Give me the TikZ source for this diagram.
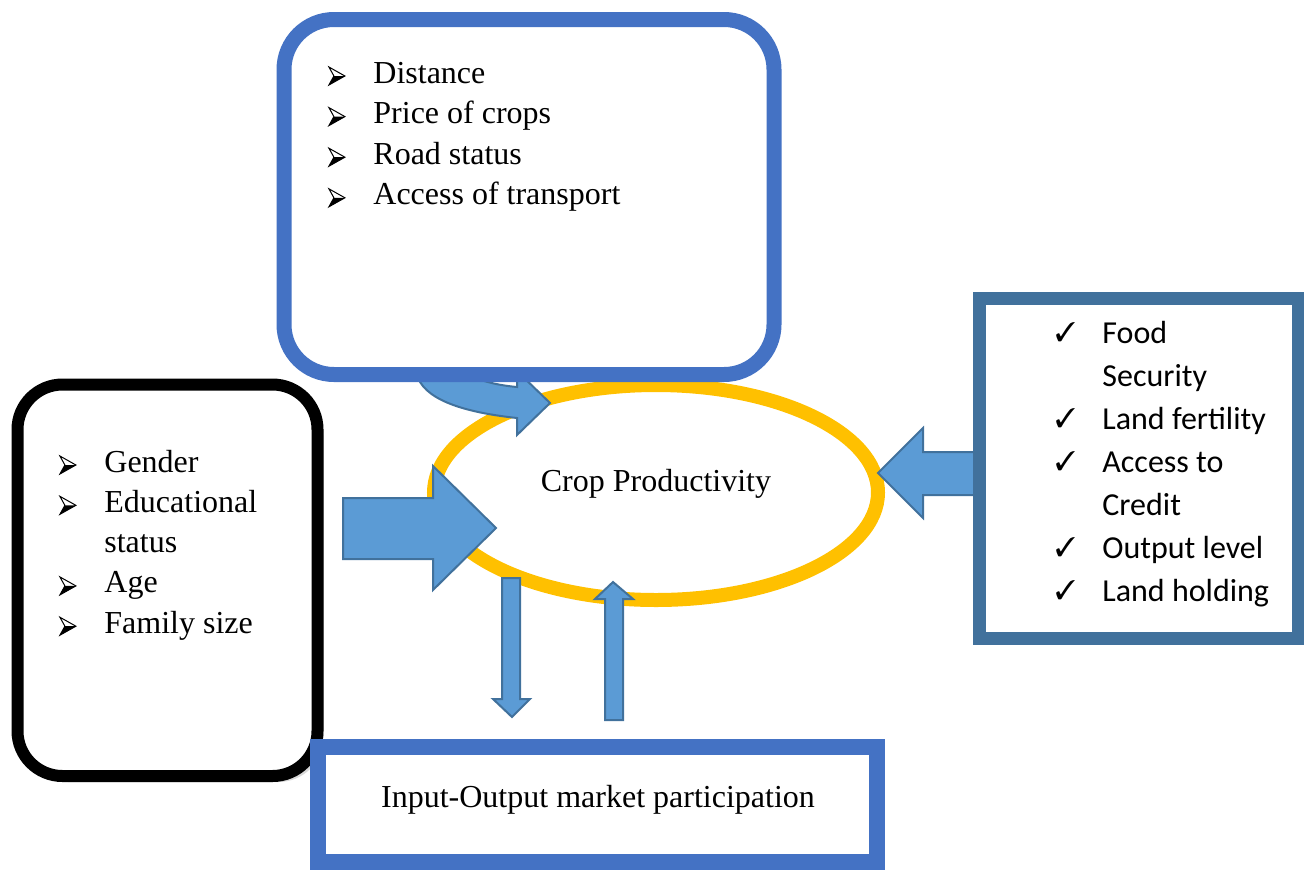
\documentclass[tikz,border=0pt]{standalone}
\usepackage{fontspec}
\setmainfont{Liberation Serif}
\newfontfamily\calibri{Carlito}
\usepackage{pifont}
\usetikzlibrary{arrows.meta,positioning,calc,shadows,shapes.geometric}

\definecolor{boxblue}{HTML}{4472C4}
\definecolor{steelblue}{HTML}{41719C}
\definecolor{arrowfill}{HTML}{5B9BD5}
\definecolor{ringyellow}{HTML}{FFC000}

% 3-D arrowhead bullet
\newcommand{\arrowbullet}{\tikz[x=0.5pt,y=0.5pt,baseline={(0,-2)}]{%
  \fill (0,0) -- (16,9) -- (5,9) -- cycle;
  \draw[line width=0.5pt, line join=miter] (0,18) -- (16,9) -- (0,0) -- (5,9) -- cycle;}}

\tikzset{
  blockarrow/.style={fill=arrowfill, draw=steelblue, line width=1pt, line join=miter},
  framebox/.style={rectangle, fill=white, inner sep=0pt},
  itemtext/.style={anchor=base west, inner sep=0pt, font=\fontsize{16}{19}\selectfont},
  itemcal/.style={anchor=base west, inner sep=0pt, font=\calibri\fontsize{16}{19}\selectfont},
  bullet/.style={anchor=base west, inner sep=0pt},
  tick/.style={anchor=base west, inner sep=0pt, font=\fontsize{13.5}{15}\selectfont},
}

\begin{document}
\begin{tikzpicture}[x=0.5pt, y=-0.5pt]
        \useasboundingbox (0,0) rectangle (1304,873);

        %% the ring in the middle
        \node [ellipse, draw=ringyellow, line width=7pt, minimum width=222pt,
               minimum height=107.5pt, inner sep=0pt] (crop) at (656,492.5) {};

        %% curved arrow, upper part hidden by the box
        \draw[blockarrow] (418,350) -- (418,378) .. controls (428,402) and (470,413) .. (517,418)
              -- (517,435) -- (550,403) -- (517,371) -- (517,387)
              .. controls (485,384) and (455,375) .. (445,350) -- cycle;

        %% market box
        \node [framebox, draw=boxblue, line width=7.5pt, rounded corners=25pt,
               minimum width=245pt, minimum height=177.5pt] (mkt_box) at (529,197) {};

        %% block arrows
        \draw[blockarrow] (343,498) -- (433,498) -- (433,466) -- (496,528) -- (433,590)
              -- (433,559) -- (343,559) -- cycle;
        \draw[blockarrow] (976,452) -- (923,452) -- (923,428) -- (878,473) -- (923,518)
              -- (923,495) -- (976,495) -- cycle;
        \draw[blockarrow] (502,578) -- (520,578) -- (520,699) -- (530,699) -- (512,717)
              -- (493,699) -- (502,699) -- cycle;
        \draw[blockarrow] (605,720) -- (605,599) -- (595,599) -- (613,582) -- (633,599)
              -- (623,599) -- (623,720) -- cycle;

        %% household box
        \node [framebox, draw=black, line width=6pt, rounded corners=22.5pt,
               minimum width=150pt, minimum height=195.75pt,
               drop shadow={shadow xshift=3pt, shadow yshift=-3pt, opacity=0.3}]
               (hh_box) at (167.5,580.25) {};

        %% participation box
        \node [framebox, draw=boxblue, line width=8pt,
               minimum width=279.5pt, minimum height=57.5pt] (part_box) at (597.5,804.5) {};

        %% outcome box
        \node [framebox, draw=steelblue, line width=6.5pt,
               minimum width=159.25pt, minimum height=170pt] (out_box) at (1138.75,468) {};

        %% texts
        \node [inner sep=0pt, font=\fontsize{16}{19}\selectfont] (crop_lbl) at (656,484) {Crop Productivity};
        \node [inner sep=0pt, font=\fontsize{16}{19}\selectfont] (part_lbl) at (598,800) {Input-Output market participation};

        \foreach \t [count=\i] in {Distance, Price of crops, Road status, Access of transport} {
          \node [bullet, name=mkt_b\i] at (328,{83+40.6*(\i-1)}) {\arrowbullet};
          \node [itemtext, name=mkt_t\i] at (373,{83+40.6*(\i-1)}) {\t};
        }
        \foreach \t/\b [count=\i] in {Gender/1, Educational/1, status/0, Age/1, Family size/1} {
          \ifnum\b=1 \node [bullet, name=hh_b\i] at (59,{472+40.3*(\i-1)}) {\arrowbullet}; \fi
          \node [itemtext, name=hh_t\i] at (104,{472+40.3*(\i-1)}) {\t};
        }
        \foreach \t/\b [count=\i] in {Food/1, Security/0, Land fertility/1, Access to/1, Credit/0,
                                      Output level/1, Land holding/1} {
          \ifnum\b=1 \node [tick, name=out_b\i] at (1055,{341+43*(\i-1)}) {\ding{51}}; \fi
          \node [itemcal, name=out_t\i] at (1102,{343+43*(\i-1)}) {\t};
        }

\end{tikzpicture}
\end{document}
